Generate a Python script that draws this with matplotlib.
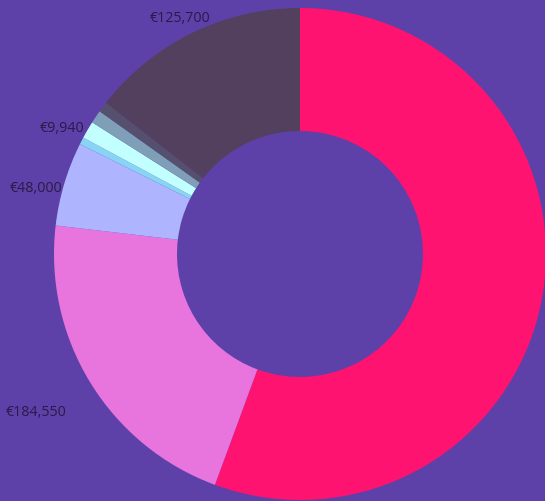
import numpy as np
import matplotlib
matplotlib.use("Agg")
from matplotlib import pyplot as plt

# slice values, clockwise from 12 o'clock
values = [483500, 184550, 48000, 4100, 9940, 7500, 6000, 125700]
colors = ['#FE1371', '#E874DE', '#AFB4FF', '#87D4F5', '#C2FFFF',
          '#7F9EB8', '#55506E', '#533F5E']
# only these labels are visible in the reference
shown = [False, True, True, False, True, False, False, True]
label_r = [1.1, 1.24, 1.11, 1.1, 1.10, 1.1, 1.1, 1.08]
label_dx = [0, -4, -2, 0, -4, 0, 0, -3]  # pixel nudge
label_dy = [0, 2, -12, 0, -10, 0, 0, -2]

bg = '#5E41A8'
fig = plt.figure(figsize=(5.45, 5.02), dpi=100, facecolor=bg)
ax = fig.add_axes([0, 0, 1, 1])
ax.set_facecolor(bg)

wedges, _ = ax.pie(values, colors=colors, startangle=90, counterclock=False,
                   radius=1.0, wedgeprops=dict(width=0.5, linewidth=0))

for w, v, s, r, dx, dy in zip(wedges, values, shown, label_r, label_dx, label_dy):
    if not s:
        continue
    mid = np.deg2rad((w.theta1 + w.theta2) / 2)
    ax.annotate('€{:,}'.format(v), (r * np.cos(mid), r * np.sin(mid)),
                xytext=(dx, dy), textcoords='offset pixels',
                ha='center', va='center', fontsize=10.3, family='Open Sans',
                color='#2A1A48')

# center of donut at pixel (300,255), radius 246 px
ax.set_xlim(-300 / 246, 245 / 246)
ax.set_ylim(-247 / 246, 255 / 246)
ax.set_aspect('auto')
ax.axis('off')

fig.savefig('out.png', dpi=100, facecolor=bg)
